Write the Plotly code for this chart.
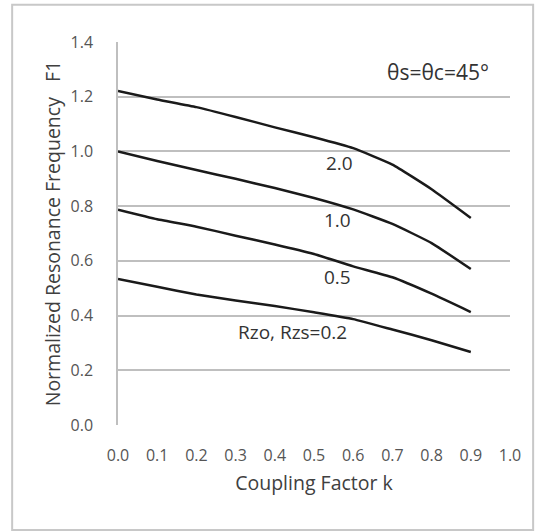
import plotly.graph_objects as go

k = [0.0, 0.1, 0.2, 0.3, 0.4, 0.5, 0.6, 0.7, 0.8, 0.9]
f_r20 = [1.221, 1.19, 1.162, 1.126, 1.088, 1.052, 1.012, 0.952, 0.862, 0.757]
f_r10 = [1.0, 0.965, 0.932, 0.9, 0.866, 0.83, 0.788, 0.735, 0.665, 0.57]
f_r05 = [0.787, 0.752, 0.725, 0.692, 0.66, 0.625, 0.58, 0.54, 0.48, 0.413]
f_r02 = [0.534, 0.505, 0.477, 0.455, 0.435, 0.412, 0.387, 0.349, 0.31, 0.267]

series = [("2.0", f_r20), ("1.0", f_r10), ("0.5", f_r05), ("Rzo, Rzs=0.2", f_r02)]
label_pos = [(0.564, 0.958), (0.561, 0.749), (0.561, 0.541), (0.446, 0.340)]

x_ticks = [0.0, 0.1, 0.2, 0.3, 0.4, 0.5, 0.6, 0.7, 0.8, 0.9, 1.0]
y_ticks = [0.0, 0.2, 0.4, 0.6, 0.8, 1.0, 1.2, 1.4]

FONT = "Open Sans"
fig = go.Figure()
for name, vals in series:
    fig.add_trace(go.Scatter(x=k, y=vals, mode="lines", name=name,
                             line=dict(color="#1a1a1a", width=2.5, shape="spline", smoothing=0.4)))

for (name, _), (px, py) in zip(series, label_pos):
    fig.add_annotation(x=px, y=py, xref="x", yref="y", text=name, showarrow=False,
                       font=dict(family=FONT, size=19, color="#333333"))
fig.add_annotation(x=0.816, y=1.29, xref="x", yref="y", text="θs=θc=45°", showarrow=False,
                   font=dict(family=FONT, size=21, color="#333333"))

# outer frame
fig.add_shape(type="rect", xref="paper", yref="paper", x0=-0.270, x1=1.059, y0=-0.274, y1=1.097,
              line=dict(color="#c8c8c8", width=2), fillcolor="rgba(0,0,0,0)", layer="below")

fig.update_layout(
    width=537, height=532,
    margin=dict(l=118, r=27, t=42, b=107),
    paper_bgcolor="white", plot_bgcolor="white",
    showlegend=False,
    font=dict(family=FONT, color="#595959"),
)
fig.update_xaxes(range=[0, 1.0], tickvals=x_ticks, ticktext=[f"{v:.1f}" for v in x_ticks],
                 showgrid=False, zeroline=False, showline=False,
                 ticks="outside", ticklen=16, tickcolor="rgba(0,0,0,0)",
                 tickfont=dict(size=16, color="#555555"),
                 title=dict(text="Coupling Factor k", font=dict(size=19.5, color="#404040"), standoff=11))
fig.update_yaxes(range=[0, 1.4], tickvals=y_ticks, ticktext=[f"{v:.1f}" for v in y_ticks],
                 showgrid=True, gridcolor="#bfbfbf", gridwidth=1.5, zeroline=False,
                 showline=True, linecolor="#bfbfbf", linewidth=1.5,
                 ticks="outside", ticklen=20, tickcolor="rgba(0,0,0,0)",
                 tickfont=dict(size=16, color="#555555"),
                 title=dict(text="Normalized Resonance Frequency\u00a0\u00a0\u00a0F1",
                            font=dict(size=19.5, color="#404040"), standoff=5))
fig.write_html("out.html")
